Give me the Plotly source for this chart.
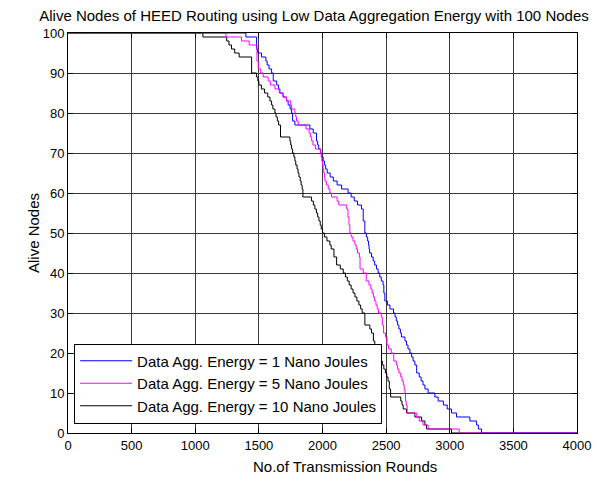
import plotly.graph_objects as go

# Data Agg. Energy = 1 nJ (blue)
rounds_1nj = [0, 1398, 1482, 1490, 1521, 1555, 1565, 1580, 1600, 1613, 1640, 1655, 1665, 1690, 1717, 1730,
              1745, 1757, 1765, 1783, 1901, 1927, 1953, 1962, 1970, 1985, 1995, 2005, 2015, 2025, 2037, 2060,
              2085, 2115, 2150, 2201, 2225, 2250, 2275, 2306, 2320, 2333, 2345, 2355, 2362, 2366, 2370, 2385,
              2398, 2410, 2424, 2437, 2450, 2462, 2476, 2482, 2490, 2510, 2530, 2558, 2570, 2580, 2590, 2600,
              2612, 2620, 2648, 2660, 2672, 2687, 2700, 2712, 2726, 2740, 2760, 2775, 2790, 2805, 2830, 2883,
              2909, 2950, 2980, 3014, 3053, 3158, 3211, 3225, 3250, 4000]
alive_1nj = [100, 99, 96, 95, 94, 93, 92, 91, 90, 88, 87, 86, 85, 84, 83, 82,
             81, 80, 78, 77, 76, 75, 73, 72, 71, 70, 69, 68, 67, 66, 65, 64,
             63, 62, 61, 60, 59, 58, 57, 56, 53, 50, 49, 48, 47, 46, 45, 44,
             43, 42, 41, 40, 39, 38, 37, 35, 33, 32, 31, 30, 29, 28, 27, 26,
             25, 24, 23, 22, 21, 20, 19, 18, 17, 15, 14, 13, 12, 11, 10, 9,
             8, 7, 6, 5, 4, 3, 2, 1, 0, 0]

# Data Agg. Energy = 5 nJ (magenta)
rounds_5nj = [0, 1241, 1364, 1424, 1485, 1495, 1515, 1534, 1573, 1590, 1626, 1660, 1690, 1717, 1750, 1757,
              1770, 1783, 1790, 1796, 1809, 1870, 1895, 1905, 1915, 1925, 1945, 1985, 1990, 1995, 2000, 2005,
              2010, 2015, 2019, 2030, 2045, 2058, 2071, 2115, 2128, 2190, 2200, 2208, 2215, 2225, 2240, 2255,
              2265, 2275, 2290, 2295, 2320, 2344, 2365, 2380, 2390, 2400, 2410, 2420, 2430, 2440, 2462, 2470,
              2480, 2495, 2507, 2520, 2540, 2560, 2580, 2590, 2600, 2615, 2625, 2635, 2642, 2648, 2652, 2658,
              2665, 2741, 2760, 2790, 2830, 3074, 4000]
alive_5nj = [100, 99, 98, 97, 93, 91, 90, 89, 88, 87, 86, 85, 84, 83, 82, 81,
             81, 80, 79, 78, 77, 76, 75, 74, 73, 72, 71, 70, 69, 68, 67, 66,
             65, 64, 63, 62, 61, 60, 59, 58, 57, 56, 54, 52, 50, 49, 48, 47,
             46, 45, 44, 41, 40, 38, 37, 36, 35, 34, 33, 32, 31, 30, 29, 27,
             25, 24, 22, 21, 20, 18, 17, 16, 15, 14, 13, 12, 11, 10, 8, 7,
             5, 4, 3, 2, 1, 0, 0]

# Data Agg. Energy = 10 nJ (black)
rounds_10nj = [0, 1060, 1247, 1265, 1285, 1310, 1345, 1443, 1482, 1492, 1500, 1520, 1545, 1570, 1587, 1600,
               1610, 1626, 1635, 1645, 1655, 1670, 1744, 1750, 1757, 1765, 1775, 1783, 1790, 1800, 1808, 1815,
               1825, 1832, 1840, 1846, 1914, 1928, 1940, 1952, 1962, 1972, 1982, 1990, 2000, 2015, 2035, 2058,
               2068, 2090, 2111, 2140, 2163, 2180, 2195, 2210, 2225, 2240, 2255, 2270, 2286, 2300, 2312, 2333,
               2372, 2385, 2400, 2411, 2420, 2432, 2445, 2458, 2470, 2482, 2494, 2505, 2515, 2525, 2535, 2615,
               2625, 2634, 2660, 2726, 2779, 2805, 2818, 3014, 4000]
alive_10nj = [100, 99, 98, 97, 96, 95, 94, 90, 89, 88, 87, 86, 85, 84, 83, 82,
              81, 80, 79, 78, 77, 74, 73, 72, 71, 70, 69, 68, 67, 66, 65, 64,
              63, 62, 61, 59, 58, 57, 56, 55, 54, 53, 52, 51, 50, 49, 48, 47,
              46, 44, 42, 41, 40, 39, 38, 37, 36, 35, 34, 33, 32, 31, 30, 27,
              26, 25, 23, 22, 21, 20, 19, 18, 17, 16, 15, 14, 13, 11, 9, 8,
              7, 6, 5, 4, 3, 2, 1, 0, 0]

series_names = ["Data Agg. Energy = 1 Nano Joules",
                "Data Agg. Energy = 5 Nano Joules",
                "Data Agg. Energy = 10 Nano Joules"]
x_ticks = [0, 500, 1000, 1500, 2000, 2500, 3000, 3500, 4000]
y_ticks = [0, 10, 20, 30, 40, 50, 60, 70, 80, 90, 100]

FONT = "Liberation Sans, Arial, sans-serif"

fig = go.Figure()
fig.add_trace(go.Scatter(x=rounds_10nj, y=alive_10nj, mode="lines", line_shape="hv",
                         line=dict(color="#000000", width=1), name=series_names[2], legendrank=3))
fig.add_trace(go.Scatter(x=rounds_1nj, y=alive_1nj, mode="lines", line_shape="hv",
                         line=dict(color="#0000FF", width=1), name=series_names[0], legendrank=1))
fig.add_trace(go.Scatter(x=rounds_5nj, y=alive_5nj, mode="lines", line_shape="hv",
                         line=dict(color="#FF00FF", width=1), name=series_names[1], legendrank=2))

axis_common = dict(showline=True, linecolor="black", linewidth=1, mirror="ticks",
                   ticks="inside", ticklen=5, tickcolor="black",
                   showgrid=True, gridcolor="#3a3a3a", gridwidth=1, zeroline=False,
                   tickfont=dict(family=FONT, size=13, color="black"))

# page has an 8px body margin; figure placed so the plot area sits at x 68..577, y 33..433
W, H = 592, 469
fig.update_layout(
    width=W, height=H,
    margin=dict(l=60, r=23, t=25, b=44, autoexpand=False),
    paper_bgcolor="white", plot_bgcolor="white",
    font=dict(family=FONT, size=15, color="black"),
    title=dict(text="Alive Nodes of HEED Routing using Low Data Aggregation Energy with 100 Nodes",
               xref="container", x=(314 - 8) / W, xanchor="center",
               yref="container", y=1 - 8 / H, yanchor="middle",
               font=dict(family=FONT, size=15, color="black")),
    xaxis=dict(range=[0, 4000], tickvals=x_ticks, **axis_common),
    yaxis=dict(range=[0, 100], tickvals=y_ticks, **axis_common),
    legend=dict(x=0.012, y=(433 - 383.5) / 400, xanchor="left", yanchor="middle",
                bgcolor="white", bordercolor="black", borderwidth=1,
                font=dict(family=FONT, size=15, color="black"),
                itemwidth=52, tracegroupgap=0, itemclick=False),
    showlegend=True,
    annotations=[
        dict(text="No.of Transmission Rounds", xref="paper", yref="paper",
             x=(345 - 68) / 509, y=(433 - 466) / 400, xanchor="center", yanchor="middle",
             showarrow=False, font=dict(family=FONT, size=15, color="black")),
        dict(text="Alive Nodes", xref="paper", yref="paper", textangle=-90,
             x=(33 - 68) / 509, y=(433 - 233) / 400, xanchor="center", yanchor="middle",
             showarrow=False, font=dict(family=FONT, size=15, color="black")),
    ],
)

fig.write_html("out.html")
